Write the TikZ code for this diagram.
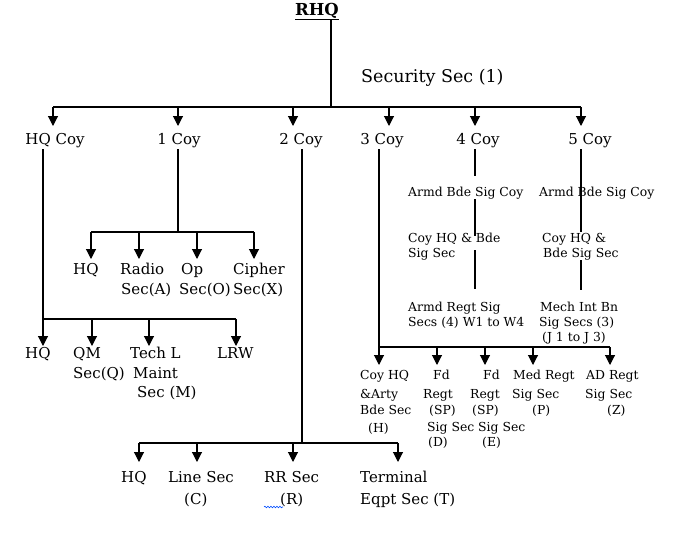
\documentclass[tikz,border=0pt]{standalone}
\usepackage{fontspec}
\setmainfont{DejaVu Serif}
\usetikzlibrary{arrows.meta,decorations.pathmorphing}
\tikzset{
  big/.style={font=\fontsize{15}{18}\selectfont, inner sep=0pt, anchor=base west},
  sml/.style={font=\fontsize{12.4}{14}\selectfont, inner sep=0pt, anchor=base west},
  ln/.style={line width=1.1pt},
  arr/.style={ln, -{Triangle[width=10pt,length=10pt]}},
}
\begin{document}
\begin{tikzpicture}[x=1pt,y=-1pt]
\useasboundingbox (0,0) rectangle (699,538);
% top
\node[big,anchor=base,font=\fontsize{16.5}{18}\selectfont] (rhq) at (317,15) {\underline{\textbf{RHQ}}};
\node[big,font=\fontsize{17.5}{18}\selectfont] (sec) at (361,82) {Security Sec (1)};
\coordinate (rtop) at (331,20);
\coordinate (tbar) at (331,107);
\draw[ln] (rtop) -- (tbar);
\coordinate (tbl) at (53,107);
\coordinate (tbr) at (581,107);
\draw[ln] (tbl) -- (tbr);
\foreach \x/\n in {53/a0,178/a1,293/a2,389/a3,475/a4,581/a5}{
  \coordinate (\n) at (\x,126);
  \draw[arr] (tbl -| \n) -- (\n);
}
\node[big,anchor=base] (hqc) at (55,144) {HQ Coy};
\node[big,anchor=base] (c1) at (179,144) {1 Coy};
\node[big,anchor=base] (c2) at (301,144) {2 Coy};
\node[big,anchor=base] (c3) at (382,144) {3 Coy};
\node[big,anchor=base] (c4) at (478,144) {4 Coy};
\node[big,anchor=base] (c5) at (590,144) {5 Coy};

% 1 Coy subtree
\coordinate (v1) at (178,149);
\coordinate (b1) at (178,232);
\draw[ln] (v1) -- (b1);
\coordinate (b1l) at (91,232);
\coordinate (b1r) at (254,232);
\draw[ln] (b1l) -- (b1r);
\foreach \x/\n in {91/p1,139/p2,197/p3,254/p4}{
  \coordinate (\n) at (\x,259);
  \draw[arr] (b1l -| \n) -- (\n);
}
\node[big] (s1a) at (73,274) {HQ};
\node[big] (s1b) at (120,274) {Radio};
\node[big] (s1b2) at (121,294) {Sec(A)};
\node[big] (s1c) at (181,274) {Op};
\node[big] (s1c2) at (179,294) {Sec(O)};
\node[big] (s1d) at (233,274) {Cipher};
\node[big] (s1d2) at (233,294) {Sec(X)};

% HQ Coy subtree
\coordinate (v0) at (43,149);
\coordinate (b0) at (43,319);
\draw[ln] (v0) -- (b0);
\coordinate (b0r) at (236,319);
\draw[ln] (b0) -- (b0r);
\foreach \x/\n in {43/q1,92/q2,149/q3,236/q4}{
  \coordinate (\n) at (\x,346);
  \draw[arr] (b0 -| \n) -- (\n);
}
\node[big] (s0a) at (25,358) {HQ};
\node[big] (s0b) at (73,358) {QM};
\node[big] (s0b2) at (73,378) {Sec(Q)};
\node[big] (s0c) at (130,358) {Tech L};
\node[big] (s0c2) at (133,378) {Maint};
\node[big] (s0c3) at (137,397) {Sec (M)};
\node[big] (s0d) at (217,358) {LRW};

% 2 Coy subtree
\coordinate (v2) at (302,149);
\coordinate (b2) at (302,443);
\draw[ln] (v2) -- (b2);
\coordinate (b2l) at (139,443);
\coordinate (b2r) at (398,443);
\draw[ln] (b2l) -- (b2r);
\foreach \x/\n in {139/r1,197/r2,293/r3,398/r4}{
  \coordinate (\n) at (\x,462);
  \draw[arr] (b2l -| \n) -- (\n);
}
\node[big] (s2a) at (121,482) {HQ};
\node[big] (s2b) at (168,482) {Line Sec};
\node[big] (s2b2) at (184,504) {(C)};
\node[big] (s2c) at (264,482) {RR Sec};
\node[big] (s2c2) at (280,504) {(R)};
\coordinate (sq1) at (264,507);
\coordinate (sq2) at (283,507);
\draw[blue!70!cyan, line width=0.6pt, decorate, decoration={snake,amplitude=0.8pt,segment length=3pt}] (sq1) -- (sq2);
\node[big] (s2d) at (360,482) {Terminal};
\node[big] (s2d2) at (360,504) {Eqpt Sec (T)};

% 3 Coy subtree
\coordinate (v3) at (379,149);
\coordinate (b3) at (379,347);
\draw[ln] (v3) -- (b3);
\coordinate (b3r) at (610,347);
\draw[ln] (b3) -- (b3r);
\foreach \x/\n in {379/u1,437/u2,485/u3,533/u4,610/u5}{
  \coordinate (\n) at (\x,365);
  \draw[arr] (b3 -| \n) -- (\n);
}
\node[sml] (h1) at (360,379) {Coy HQ};
\node[sml] (h2) at (360,398) {\&Arty};
\node[sml] (h3) at (360,414) {Bde Sec};
\node[sml] (h4) at (368,432) {(H)};
\node[sml] (d1) at (433,379) {Fd};
\node[sml] (d2) at (423,398) {Regt};
\node[sml] (d3) at (429,414) {(SP)};
\node[sml] (d4) at (427,431) {Sig Sec};
\node[sml] (d5) at (428,446) {(D)};
\node[sml] (e1) at (483,379) {Fd};
\node[sml] (e2) at (470,398) {Regt};
\node[sml] (e3) at (472,414) {(SP)};
\node[sml] (e4) at (478,431) {Sig Sec};
\node[sml] (e5) at (482,446) {(E)};
\node[sml] (m1) at (513,379) {Med Regt};
\node[sml] (m2) at (512,398) {Sig Sec};
\node[sml] (m3) at (532,414) {(P)};
\node[sml] (z1) at (586,379) {AD Regt};
\node[sml] (z2) at (585,398) {Sig Sec};
\node[sml] (z3) at (607,414) {(Z)};

% 4 Coy chain
\node[sml] (f1) at (408,196) {Armd Bde Sig Coy};
\node[sml] (f2) at (408,242) {Coy HQ \& Bde};
\node[sml] (f3) at (408,257) {Sig Sec};
\node[sml] (f4) at (408,311) {Armd Regt Sig};
\node[sml] (f5) at (408,326) {Secs (4) W1 to W4};
\coordinate (g1) at (475,149);
\coordinate (g2) at (475,176);
\coordinate (g3) at (475,199);
\coordinate (g4) at (475,236);
\coordinate (g5) at (475,250);
\coordinate (g6) at (475,289);
\draw[ln] (g1) -- (g2);
\draw[ln] (g3) -- (g4);
\draw[ln] (g5) -- (g6);

% 5 Coy chain
\node[sml] (k1) at (539,196) {Armd Bde Sig Coy};
\node[sml] (k2) at (542,242) {Coy HQ \&};
\node[sml] (k3) at (543,257) {Bde Sig Sec};
\node[sml] (k4) at (540,311) {Mech Int Bn};
\node[sml] (k5) at (539,326) {Sig Secs (3)};
\node[sml] (k6) at (542,341) {(J 1 to J 3)};
\coordinate (n1) at (581,149);
\coordinate (n2) at (581,232);
\coordinate (n3) at (581,260);
\coordinate (n4) at (581,290);
\draw[ln] (n1) -- (n2);
\draw[ln] (n3) -- (n4);
\end{tikzpicture}
\end{document}
